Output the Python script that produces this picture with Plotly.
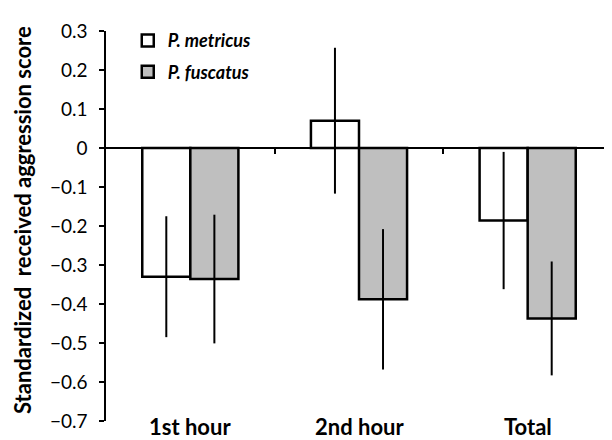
import plotly.graph_objects as go

categories = ["1st hour", "2nd hour", "Total"]
series_names = ["P. metricus", "P. fuscatus"]
metricus_vals = [-0.33, 0.07, -0.186]
metricus_err = [0.155, 0.187, 0.176]
fuscatus_vals = [-0.336, -0.388, -0.437]
fuscatus_err = [0.165, 0.18, 0.146]
y_ticks = [0.3, 0.2, 0.1, 0, -0.1, -0.2, -0.3, -0.4, -0.5, -0.6, -0.7]
y_title = "Standardized\u00a0 received aggression score"

xpos = list(range(len(categories)))
font_fam = "Lato, 'Open Sans', sans-serif"

fig = go.Figure()
fig.add_trace(go.Bar(
    x=xpos, y=metricus_vals, name="<b><i>" + series_names[0] + "</i></b>",
    legend="legend", showlegend=True,
    marker=dict(color="white", line=dict(color="black", width=2.5)),
    error_y=dict(type="data", array=metricus_err, visible=True, width=0, thickness=2, color="black"),
))
fig.add_trace(go.Bar(
    x=xpos, y=fuscatus_vals, name="<b><i>" + series_names[1] + "</i></b>",
    legend="legend2", showlegend=True,
    marker=dict(color="#BFBFBF", line=dict(color="black", width=2.5)),
    error_y=dict(type="data", array=fuscatus_err, visible=True, width=0, thickness=2, color="black"),
))

ymin, ymax = -0.7, 0.3
zero_frac = (0 - ymin) / (ymax - ymin)

# page body has an 8px margin: figure is sized/offset to compensate
fig.update_layout(
    width=604, height=432,
    margin=dict(l=98, r=0, t=23, b=19, autoexpand=False),
    paper_bgcolor="white", plot_bgcolor="white",
    showlegend=True,
    barmode="group", bargap=0.43, bargroupgap=0,
    font=dict(family=font_fam, color="black", size=18),
    xaxis=dict(
        range=[-0.5, len(categories) - 0.5],
        anchor="free", position=zero_frac,
        showline=True, linecolor="black", linewidth=1.5,
        tickvals=[i + 0.5 for i in xpos[:-1]],
        ticks="outside", ticklen=5, tickwidth=1.5, tickcolor="black",
        showticklabels=False, showgrid=False, zeroline=False,
        automargin=False,
    ),
    yaxis=dict(
        range=[ymin, ymax], tickvals=y_ticks,
        showline=True, linecolor="black", linewidth=1.5,
        ticks="outside", ticklen=5, tickwidth=1.5, tickcolor="black",
        ticklabelstandoff=8,
        tickfont=dict(size=19, family=font_fam),
        showgrid=False, zeroline=False, automargin=False,
    ),
    legend=dict(
        x=0.043, y=0.975, xanchor="left", yanchor="middle",
        bgcolor="rgba(0,0,0,0)", borderwidth=0,
        font=dict(size=18, family=font_fam),
    ),
    legend2=dict(
        x=0.043, y=0.895, xanchor="left", yanchor="middle",
        bgcolor="rgba(0,0,0,0)", borderwidth=0,
        font=dict(size=18, family=font_fam),
    ),
)

for i, c in enumerate(categories):
    fig.add_annotation(
        x=i, y=0, xref="x", yref="paper", text="<b>" + c + "</b>",
        showarrow=False, yanchor="middle", yshift=-5,
        font=dict(size=22, family=font_fam),
    )

fig.add_annotation(
    x=0, y=0.5, xref="paper", yref="paper", text="<b>" + y_title + "</b>",
    showarrow=False, textangle=-90, xanchor="center", yanchor="middle",
    xshift=-84, yshift=6, font=dict(size=22, family=font_fam),
)

fig.write_html("out.html")
